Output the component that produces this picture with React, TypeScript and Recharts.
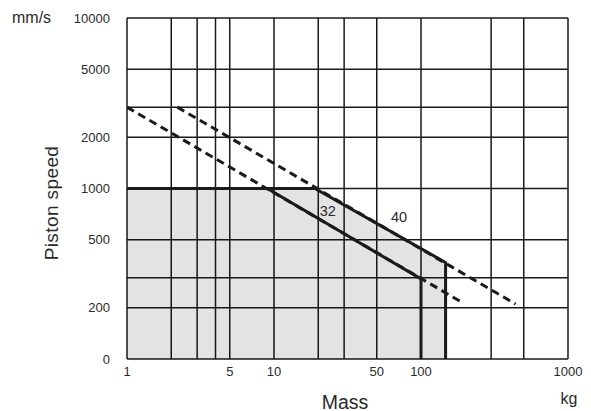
import React from 'react';
import {
    ComposedChart,
    Area,
    Line,
    XAxis,
    YAxis,
    CartesianGrid,
    ReferenceDot
} from 'recharts';

// axis ticks and grid values
const massTicks = [1, 5, 10, 50, 100, 1000];
const speedTicks = [100, 200, 500, 1000, 2000, 5000, 10000];
const massGrid = [1, 2, 3, 4, 5, 10, 20, 30, 40, 50, 100, 200, 300, 400, 500, 1000];
const speedGrid = [100, 200, 300, 400, 500, 1000, 2000, 3000, 4000, 5000, 10000];

// bore 32 / 40 limits (mass kg, speed mm/s)
const bore32 = [
    { m: 1, v: 1000 },
    { m: 9, v: 1000 },
    { m: 100, v: 295 },
    { m: 100, v: 100 }
];
const bore32Dashed = [
    { m: 1, v: 3000 },
    { m: 190, v: 215 }
];
const bore40 = [
    { m: 1, v: 1000 },
    { m: 19, v: 1000 },
    { m: 147, v: 368 },
    { m: 147, v: 100 }
];
const bore40Dashed = [
    { m: 2.2, v: 3000 },
    { m: 440, v: 210 }
];
const curveLabels = [
    { m: 23.2, v: 741, text: '32' },
    { m: 70.8, v: 684, text: '40' }
];

const font = '"Liberation Sans", Arial, sans-serif';
const ink = '#1a1a1a';

const App: React.FC = () => {
    return (
        <div style={{ position: 'absolute', left: 0, top: 0, width: 591, height: 411, background: '#fff', fontFamily: font }}>
            <ComposedChart
                width={591}
                height={411}
                margin={{ top: 18, right: 23, left: 67, bottom: 22 }}
            >
                <XAxis
                    dataKey="m"
                    type="number"
                    scale="log"
                    domain={[1, 1000]}
                    allowDataOverflow
                    ticks={massTicks}
                    height={30}
                    axisLine={false}
                    tickLine={false}
                    tick={{ fill: '#2a2a2a', fontSize: 13, fontFamily: font }}
                />
                <YAxis
                    type="number"
                    scale="log"
                    domain={[100, 10000]}
                    allowDataOverflow
                    ticks={speedTicks}
                    width={60}
                    axisLine={false}
                    tickLine={false}
                    tickSize={6}
                    tickMargin={11}
                    tickFormatter={(v: number) => (v === 100 ? '0' : String(v))}
                    tick={{ fill: '#2a2a2a', fontSize: 13, fontFamily: font }}
                />
                <Area
                    data={bore40}
                    dataKey="v"
                    type="linear"
                    stroke="none"
                    fill="#000"
                    fillOpacity={0.11}
                    baseValue={100}
                    isAnimationActive={false}
                />
                <CartesianGrid
                    horizontalValues={speedGrid}
                    verticalValues={massGrid}
                    stroke={ink}
                    strokeWidth={1.5}
                />
                <Line
                    data={bore32Dashed}
                    dataKey="v"
                    type="linear"
                    stroke={ink}
                    strokeWidth={3}
                    strokeDasharray="8 5"
                    dot={false}
                    isAnimationActive={false}
                />
                <Line
                    data={bore40Dashed}
                    dataKey="v"
                    type="linear"
                    stroke={ink}
                    strokeWidth={3}
                    strokeDasharray="8 5"
                    dot={false}
                    isAnimationActive={false}
                />
                <Line
                    data={bore32}
                    dataKey="v"
                    type="linear"
                    stroke={ink}
                    strokeWidth={3}
                    dot={false}
                    isAnimationActive={false}
                />
                <Line
                    data={bore40}
                    dataKey="v"
                    type="linear"
                    stroke={ink}
                    strokeWidth={3}
                    dot={false}
                    isAnimationActive={false}
                />
                {curveLabels.map(l => (
                    <ReferenceDot
                        key={l.text}
                        x={l.m}
                        y={l.v}
                        r={0}
                        stroke="none"
                        label={{ value: l.text, position: 'center', fill: '#2a2a2a', fontSize: 14.5, fontFamily: font }}
                    />
                ))}
            </ComposedChart>
            <div style={{ position: 'absolute', left: 12, top: 9, fontSize: 16, color: '#2a2a2a', lineHeight: '18px' }}>mm/s</div>
            <div
                style={{
                    position: 'absolute',
                    left: 52,
                    top: 203,
                    fontSize: 19,
                    color: '#2a2a2a',
                    whiteSpace: 'nowrap',
                    letterSpacing: 0.4,
                    transform: 'translate(-50%, -50%) rotate(-90deg)'
                }}
            >
                Piston speed
            </div>
            <div style={{ position: 'absolute', left: 345, top: 402, fontSize: 19.5, color: '#2a2a2a', transform: 'translate(-50%, -50%)' }}>Mass</div>
            <div style={{ position: 'absolute', left: 569, top: 399, fontSize: 16, color: '#2a2a2a', transform: 'translate(-50%, -50%)' }}>kg</div>
        </div>
    );
};

export default App;
